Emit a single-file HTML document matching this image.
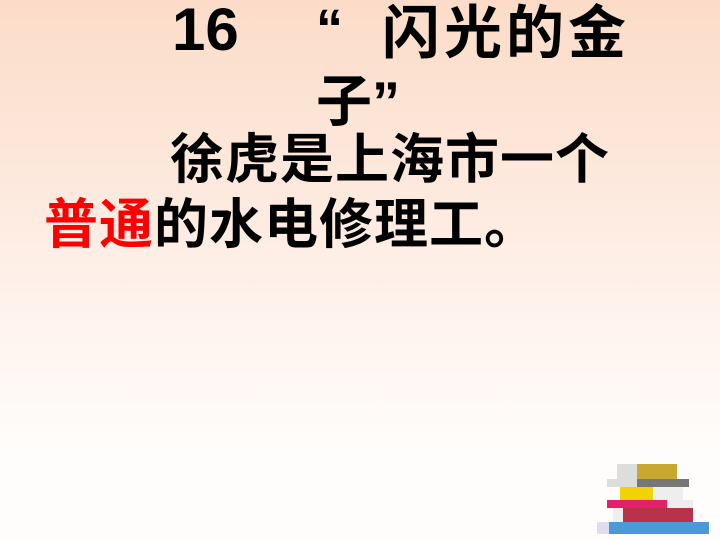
<!DOCTYPE html>
<html><head><meta charset="utf-8"><style>
html,body{margin:0;padding:0}
body{width:720px;height:540px;position:relative;overflow:hidden;background:linear-gradient(to bottom,#fcdcc8 0%,#fde9de 35%,#fff6f1 65%,#fffdfc 85%);font-family:"Liberation Sans","Noto Sans CJK SC",sans-serif;font-weight:bold;color:#000}
.t{position:absolute;font-size:54px;line-height:60px;white-space:nowrap;margin:0}
.red{color:#f00}
</style></head><body>
<div class="t" style="left:172px;top:0px;font-size:60px;">16</div>
<div class="t" style="left:316px;top:-1px;">“</div>
<div class="t" style="left:382px;top:4px;font-size:58px;letter-spacing:4px;">闪光的金</div>
<div class="t" style="left:316px;top:72px;font-size:56px;">子”</div>
<div class="t" style="left:170px;top:130px;letter-spacing:1px;">徐虎是上海市一个</div>
<div class="t" style="left:44px;top:195px;letter-spacing:1px;"><span class="red">普通</span>的水电修理工。</div>
<svg style="position:absolute;left:595px;top:460px" width="120" height="80" viewBox="0 0 120 80">
<rect x="2" y="62" width="112" height="12" fill="#4a9ad8"/><rect x="2" y="62" width="12" height="12" fill="#dde"/>
<rect x="18" y="48" width="80" height="14" fill="#b8334a"/><rect x="18" y="48" width="10" height="14" fill="#eee"/>
<rect x="12" y="40" width="86" height="8" fill="#e3206a"/><rect x="72" y="40" width="26" height="8" fill="#eee"/>
<rect x="25" y="27" width="60" height="13" fill="#f2d200"/><rect x="58" y="27" width="30" height="13" fill="#eee"/>
<rect x="12" y="19" width="82" height="8" fill="#777"/><rect x="12" y="19" width="30" height="8" fill="#ddd"/>
<rect x="22" y="4" width="60" height="15" fill="#c8a830"/><rect x="22" y="4" width="20" height="15" fill="#ddd"/>
</svg>
</body></html>
